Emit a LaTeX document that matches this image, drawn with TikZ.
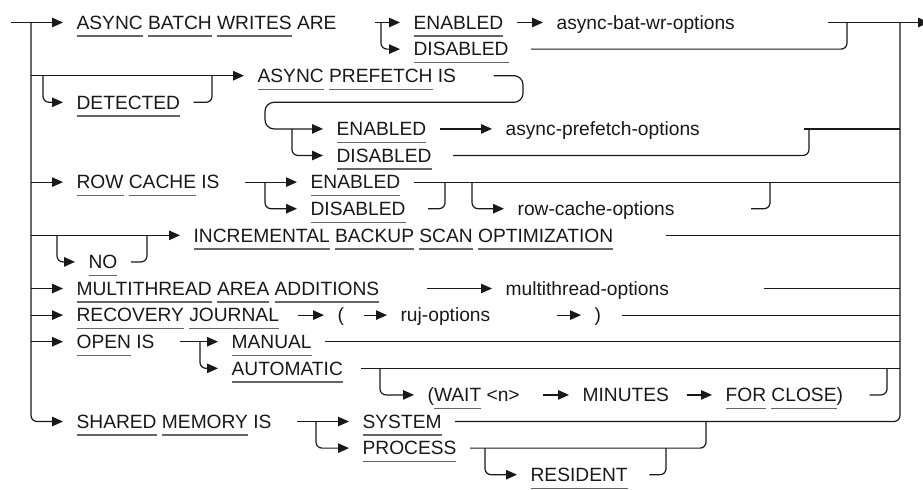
\documentclass[tikz,border=0pt]{standalone}
\usepackage{fontspec}
\setmainfont{Liberation Sans}
\usetikzlibrary{arrows.meta,positioning}
\newcommand\kw[1]{\setbox0\hbox{#1}\rlap{\color{black!60}\rule[-7.4pt]{\wd0}{1.3pt}}\box0\relax}

\begin{document}
\begin{tikzpicture}[x=1pt,y=-26.6pt,>={Triangle[length=11pt,width=9.5pt]},
		line width=1.2pt,color=black!90]
		\tikzstyle{term}=[anchor=west,inner xsep=13pt,inner ysep=0pt,text height=13.7pt,text depth=0pt,font=\fontsize{19.2}{23}\selectfont]
		\tikzstyle{rnd}=[rounded corners=6pt]
		\useasboundingbox (0,0.154) rectangle (923,18.538);
		
		% rails
		\coordinate (in) at (11,1);
		\coordinate (out) at (929,1);
		\coordinate (l1) at (31,1);
		\coordinate (r1) at (900,1);
		\foreach \r in {3,7,9,11,12,13} \coordinate (l\r) at (31,\r);
		\foreach \r in {5,7,9,11,12,13,14} \coordinate (r\r) at (900,\r);
		
		% terms
		\node[term] (abw) at (63,1) {\kw{ASYNC} \kw{BATCH} \kw{WRITES} ARE};
		\node[term] (ena1) at (400,1) {\kw{ENABLED}};
		\node[term] (dis1) at (400,2) {\kw{DISABLED}};
		\node[term] (abwopt) at (543,1) {async-bat-wr-options};
		\node[term] (apf) at (244,3) {\kw{ASYNC} \kw{PREFETCH} IS};
		\node[term] (det) at (63,4) {\kw{DETECTED}};
		\node[term] (ena2) at (323,5) {\kw{ENABLED}};
		\node[term] (dis2) at (323,6) {\kw{DISABLED}};
		\node[term] (apfopt) at (492,5) {async-prefetch-options};
		\node[term] (rc) at (63,7) {\kw{ROW} \kw{CACHE} IS};
		\node[term] (ena3) at (297,7) {\kw{ENABLED}};
		\node[term] (dis3) at (297,8) {\kw{DISABLED}};
		\node[term] (rcopt) at (504,8) {row-cache-options};
		\node[term] (ibso) at (180,9) {\kw{INCREMENTAL} \kw{BACKUP} \kw{SCAN} \kw{OPTIMIZATION}};
		\node[term] (no) at (75,10) {\kw{NO}};
		\node[term] (maa) at (63,11) {\kw{MULTITHREAD} \kw{AREA} \kw{ADDITIONS}};
		\node[term] (mtopt) at (492,11) {multithread-options};
		\node[term] (rj) at (63,12) {\kw{RECOVERY} \kw{JOURNAL}};
		\node[term] (lpar) at (324,12) {(};
		\node[term] (rujopt) at (387,12) {ruj-options};
		\node[term] (rpar) at (581,12) {)};
		\node[term] (open) at (63,13) {\kw{OPEN} IS};
		\node[term] (man) at (218,13) {\kw{MANUAL}};
		\node[term] (auto) at (218,14) {\kw{AUTOMATIC}};
		\node[term] (wait) at (414,15) {(\kw{WAIT} <n>};
		\node[term] (min) at (569,15) {MINUTES};
		\node[term] (forc) at (712,15) {\kw{FOR} \kw{CLOSE})};
		\node[term] (shm) at (63,16) {\kw{SHARED} \kw{MEMORY} IS};
		\node[term] (sys) at (349,16) {\kw{SYSTEM}};
		\node[term] (proc) at (349,17) {\kw{PROCESS}};
		\node[term] (res) at (517,18) {\kw{RESIDENT}};
		
		% junctions
		\coordinate (abwE) at (375,1);
		\coordinate (b1) at (381,1);
		\coordinate (abwoptE) at (828,1);
		\coordinate (m1) at (847,1);
		\coordinate (dA) at (43,3);
		\coordinate (dB) at (212,3);
		\coordinate (lpR) at (523,4);
		\coordinate (lpL) at (265,4);
		\coordinate (b2) at (292,5);
		\coordinate (m2) at (809,5);
		\coordinate (rcE) at (245,7);
		\coordinate (b3) at (265,7);
		\coordinate (m3) at (445,7);
		\coordinate (b4) at (472,7);
		\coordinate (m4) at (770,7);
		\coordinate (b5) at (57,9);
		\coordinate (m5) at (147,9);
		\coordinate (openE) at (180,13);
		\coordinate (b6) at (200,13);
		\coordinate (b7) at (380,14);
		\coordinate (m7) at (887,14);
		\coordinate (shmE) at (297,16);
		\coordinate (b8) at (316,16);
		\coordinate (m8) at (706,16);
		\coordinate (b9) at (485,17);
		\coordinate (m9) at (666,17);
		
		\draw[->] (in) -- (abw);
		\draw[->,rnd] (l1) |- (shm);
		\draw[rnd] (sys) -| (r1);
		\draw[->] (abwoptE) -- (out);
		
		\draw[->] (abwE) -- (ena1);
		\draw[->,rnd] (b1) |- (dis1);
		\draw[->] (ena1) -- (abwopt);
		\draw[rnd,shorten <=9pt] (dis1) -| (m1);
		
		\draw[->] (l3) -- (apf);
		\draw[->,rnd] (dA) |- (det);
		\draw[rnd] (det) -| (dB);
		\draw[->,rounded corners=9pt,shorten <=24pt] (apf) -| (lpR) -- (lpL) |- (ena2);
		\draw[->,rnd] (b2) |- (dis2);
		\draw[->] (ena2) -- (apfopt);
		\draw[shorten <=91pt] (apfopt) -- (r5);
		\draw[rnd,shorten <=8pt] (dis2) -| (m2);
		
		\draw[->] (l7) -- (rc);
		\draw[->] (rcE) -- (ena3);
		\draw[->,rnd] (b3) |- (dis3);
		\draw (ena3) -- (r7);
		\draw[rnd,shorten <=9pt] (dis3) -| (m3);
		\draw[->,rnd] (b4) |- (rcopt);
		\draw[rnd,shorten <=63pt] (rcopt) -| (m4);
		
		\draw[->] (l9) -- (ibso);
		\draw[->,rnd] (b5) |- (no);
		\draw[rnd] (no) -| (m5);
		\draw[shorten <=39pt] (ibso) -- (r9);
		
		\draw[->] (l11) -- (maa);
		\draw[->,shorten <=34pt] (maa) -- (mtopt);
		\draw[shorten <=82pt] (mtopt) -- (r11);
		
		\draw[->] (l12) -- (rj);
		\draw[->,shorten <=5pt] (rj) -- (lpar);
		\draw[->,shorten <=6pt] (lpar) -- (rujopt);
		\draw[->,shorten <=53pt] (rujopt) -- (rpar);
		\draw[shorten <=7pt] (rpar) -- (r12);
		
		\draw[->] (l13) -- (open);
		\draw[->] (openE) -- (man);
		\draw[->,rnd] (b6) |- (auto);
		\draw (man) -- (r13);
		\draw[shorten <=5pt] (auto) -- (r14);
		\draw[->,rnd] (b7) |- (wait);
		\draw[->,shorten <=10pt] (wait) -- (min);
		\draw[->,shorten <=4pt] (min) -- (forc);
		\draw[rnd,shorten <=13pt] (forc) -| (m7);
		
		\draw[->] (shmE) -- (sys);
		\draw[->,rnd] (b8) |- (proc);
		\draw[rnd] (proc) -| (m8);
		\draw[->,rnd] (b9) |- (res);
		\draw[rnd,shorten <=8pt] (res) -| (m9);
	\end{tikzpicture}
\end{document}
